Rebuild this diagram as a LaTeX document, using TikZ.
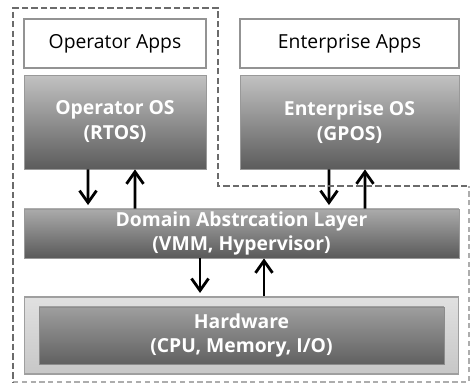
\documentclass[tikz,border=0pt]{standalone}
\usepackage{fontspec}
\setmainfont{Open Sans}
\usetikzlibrary{arrows.meta, calc}

\begin{document}
\begin{tikzpicture}[
    x=0.02cm, y=-0.02cm,
    every node/.style={font=\fontsize{11}{14.2}\selectfont},
    appbox/.style={rectangle, draw=gray!85, line width=0.8pt, fill=white, minimum height=0.98cm, inner sep=0pt},
    osbox/.style={rectangle, draw=gray!80, line width=0.5pt, top color=black!24, bottom color=black!64,
        minimum height=1.88cm, text=white, align=center, font=\fontsize{11}{14.2}\selectfont\bfseries, inner sep=0pt},
    layerbox/.style={osbox, top color=black!33, bottom color=black!65, minimum height=0.98cm},
    arrow/.style={-{Straight Barb[length=2.4mm, width=3.4mm, line width=1.6pt]}, line width=1.6pt},
    darkdash/.style={draw=black!58, line width=1.1pt, dash pattern=on 3.6pt off 1.8pt},
    lightdash/.style={draw=black!32, line width=0.8pt, dash pattern=on 3pt off 2pt}
]
\useasboundingbox (0,0) rectangle (471,384);

% ============ TOP: Apps and guest OSes ============
\node[appbox, minimum width=3.64cm] (opapps) at (115,43.5) {Operator Apps};
\node[osbox, minimum width=3.64cm] (opos) at (115,122) {Operator OS\\(RTOS)};

\node[appbox, minimum width=4.38cm] (entapps) at (349.5,43.5) {Enterprise Apps};
\node[osbox, minimum width=4.38cm] (entos) at (349.5,122) {Enterprise OS\\(GPOS)};

% ============ MIDDLE: Domain layer ============
\node[layerbox, minimum width=8.70cm] (dal) at (241.5,233.5) {Domain Abstrcation Layer\\(VMM, Hypervisor)};

% ============ BOTTOM: Hardware ============
\node[rectangle, draw=gray!75, line width=0.6pt, top color=black!12, bottom color=black!22,
      minimum width=8.70cm, minimum height=1.54cm] (hwout) at (241.5,335.5) {};
\node[layerbox, draw=gray!90, top color=black!38, bottom color=black!62,
      minimum width=8.10cm, minimum height=1.14cm] (hwin) at (hwout.center) {Hardware\\(CPU, Memory, I/O)};

% ============ ARROWS ============
% Operator OS <-> domain layer
\draw[arrow, shorten >=2pt] ($(opos.south)+(-0.54cm,0)$) -- ($(dal.north)+(-3.07cm,0)$);
\draw[arrow] ($(dal.north)+(-2.13cm,0)$) -- ($(opos.south)+(0.40cm,0)$);

% Enterprise OS <-> domain layer
\draw[arrow, shorten >=2pt] ($(entos.south)+(-0.41cm,0)$) -- ($(dal.north)+(1.75cm,0)$);
\draw[arrow] ($(dal.north)+(2.47cm,0)$) -- ($(entos.south)+(0.31cm,0)$);

% Domain layer <-> hardware
\draw[arrow, shorten >=2pt] ($(dal.south)+(-0.83cm,0)$) -- ($(hwout.north)+(-0.83cm,0)$);
\draw[arrow] ($(hwout.north)+(0.45cm,0)$) -- ($(dal.south)+(0.45cm,0)$);

% ============ DASHED DOMAINS ============
\draw[lightdash] (13,382) -- (469,382) -- (469,186);
\draw[darkdash] (467,186) -- (218,186) -- (218,8) -- (13,8) -- (13,382);

\end{tikzpicture}
\end{document}
